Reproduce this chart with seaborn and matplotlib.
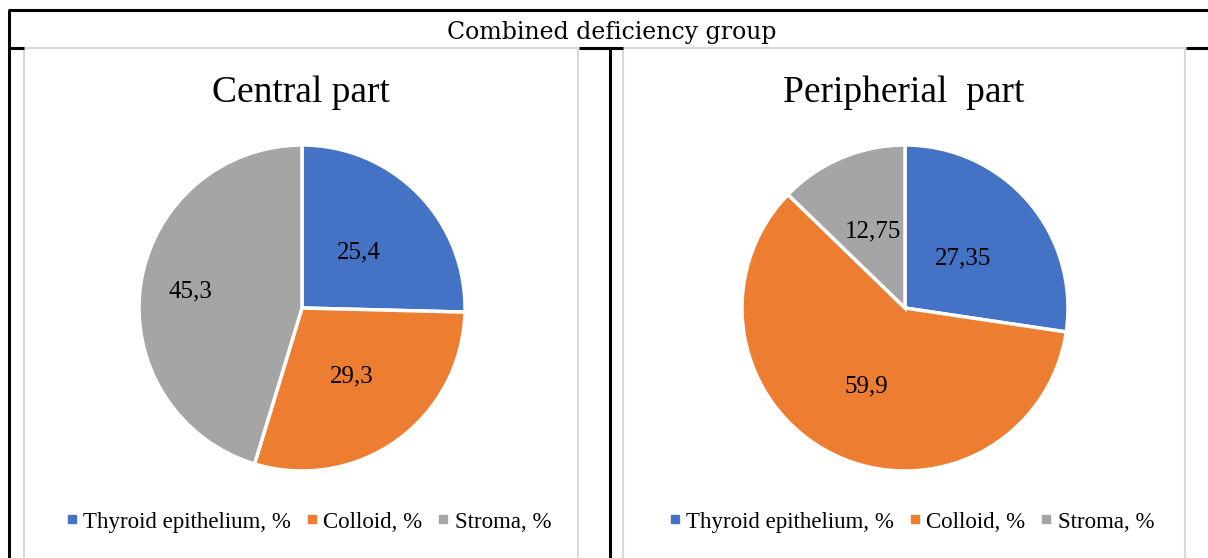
import matplotlib
matplotlib.use("Agg")
import matplotlib.pyplot as plt
from matplotlib.lines import Line2D
from matplotlib.patches import Rectangle
import numpy as np
import seaborn as sns

sns.set_theme(style="white")
plt.rcParams['font.family'] = ['Liberation Serif', 'DejaVu Serif']
plt.rcParams['text.color'] = 'black'

group_title = "Combined deficiency group"
categories = ["Thyroid epithelium, %", "Colloid, %", "Stroma, %"]
central_values = [25.4, 29.3, 45.3]
peripheral_values = [27.35, 59.9, 12.75]
central_labels = ["25,4", "29,3", "45,3"]
peripheral_labels = ["27,35", "59,9", "12,75"]
panel_titles = ["Central part", "Peripherial  part"]

colors = ["#4472C4", "#ED7D31", "#A5A5A5"]
label_dist = [[0.49, 0.52, 0.69], [0.47, 0.54, 0.51]]

W, H = 1208, 558
fig = plt.figure(figsize=(W / 100, H / 100), dpi=100)


def fx(x):
    return x / W


def fy(y):
    return 1 - y / H


# table lines
black = dict(color="black", lw=2.2, transform=fig.transFigure, solid_capstyle="butt")
fig.add_artist(Line2D([fx(8), fx(1208)], [fy(10), fy(10)], **black))
fig.add_artist(Line2D([fx(9), fx(9)], [fy(10), fy(558)], **black))
fig.add_artist(Line2D([fx(9), fx(24)], [fy(48), fy(48)], **black))
fig.add_artist(Line2D([fx(579), fx(623)], [fy(48), fy(48)], **black))
fig.add_artist(Line2D([fx(1186), fx(1208)], [fy(48), fy(48)], **black))
fig.add_artist(Line2D([fx(610), fx(610)], [fy(48), fy(558)], **black))

fig.text(fx(612), fy(32), group_title, ha="center", va="center", fontsize=17,
         family="DejaVu Serif")

frames = [(24, 578), (623, 1185)]
centers = [(302, 308), (905, 308)]
radius = 163
all_values = [central_values, peripheral_values]
all_labels = [central_labels, peripheral_labels]

for i in range(2):
    x0, x1 = frames[i]
    fig.add_artist(Rectangle((fx(x0), fy(560)), fx(x1 - x0), fy(48) - fy(560),
                             transform=fig.transFigure, fill=False,
                             edgecolor="#D9D9D9", lw=1.5))
    cx, cy = centers[i]
    ax = fig.add_axes([fx(cx - radius), fy(cy + radius), fx(2 * radius), fy(cy - radius) - fy(cy + radius)])
    vals = all_values[i]
    wedges, _ = ax.pie(vals, colors=colors, startangle=90, counterclock=False,
                       wedgeprops=dict(edgecolor="white", linewidth=2.5))
    ax.set_xlim(-1, 1)
    ax.set_ylim(-1, 1)
    ax.axis("off")
    # data labels
    cum = np.cumsum([0] + vals[:-1])
    for j, v in enumerate(vals):
        ang = np.deg2rad(90 - (cum[j] + v / 2) / sum(vals) * 360)
        d = label_dist[i][j]
        ax.text(d * np.cos(ang), d * np.sin(ang), all_labels[i][j],
                ha="center", va="center", fontsize=18)
    fig.text(fx((x0 + x1) / 2), fy(93), panel_titles[i], ha="center", va="center", fontsize=27)
    handles = [Line2D([], [], marker="s", ls="", color=c, markersize=6) for c in colors]
    fig.legend(handles, categories, loc="center", bbox_to_anchor=(fx((x0 + x1) / 2 + 6), fy(522)),
               ncol=3, frameon=False, fontsize=16.5, handletextpad=0.1, columnspacing=0.5,
               handlelength=0.8)

fig.savefig("out.png", dpi=100)
